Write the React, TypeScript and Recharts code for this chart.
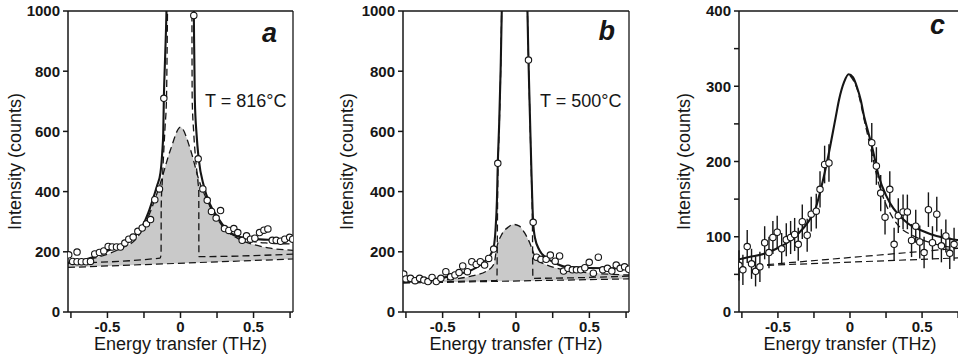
import {
  ComposedChart,
  Line,
  Area,
  Scatter,
  XAxis,
  YAxis,
  ErrorBar,
  ReferenceLine,
  Label,
} from "recharts";

type Pt = [number, number];

const FONT = '"Liberation Sans", Arial, Helvetica, sans-serif';
const INK = "#161616";
const GRAY = "#c9c9c9";

const xTicks = [-0.75, -0.5, -0.25, 0, 0.25, 0.5, 0.75];
const xLabeled = [-0.5, 0, 0.5];

// panel a, T = 816°C
const aPoints: Pt[] = [
  [-0.765, 190], [-0.738, 168], [-0.708, 199], [-0.708, 167], [-0.678, 167], [-0.646, 167],
  [-0.616, 168], [-0.587, 193], [-0.555, 198], [-0.525, 203], [-0.495, 218], [-0.468, 216],
  [-0.438, 216], [-0.411, 216], [-0.381, 229], [-0.354, 242], [-0.324, 249], [-0.292, 268],
  [-0.262, 279], [-0.233, 293], [-0.205, 307], [-0.176, 373], [-0.144, 409], [-0.114, 710],
  [0.091, 985], [0.121, 509], [0.153, 409], [0.183, 371], [0.212, 334], [0.244, 312],
  [0.274, 337], [0.301, 277], [0.331, 271], [0.365, 277], [0.392, 264], [0.422, 238],
  [0.452, 253], [0.479, 242], [0.509, 245], [0.541, 264], [0.571, 272], [0.598, 276],
  [0.628, 238], [0.655, 238], [0.685, 235], [0.714, 242], [0.747, 248], [0.768, 242],
];
const aSolid: Pt[] = [
  [-0.77, 162], [-0.7, 169], [-0.6, 182], [-0.5, 203], [-0.4, 225], [-0.3, 258], [-0.262, 284],
  [-0.22, 330], [-0.183, 384], [-0.16, 420], [-0.137, 463], [-0.125, 530], [-0.118, 596],
  [-0.114, 707], [-0.105, 850], [-0.096, 1000], [-0.088, 1250], [0.085, 1250], [0.091, 1000],
  [0.098, 707], [0.11, 590], [0.125, 507], [0.16, 418], [0.2, 360], [0.25, 318], [0.3, 283],
  [0.342, 262], [0.4, 250], [0.5, 243], [0.6, 240], [0.7, 239], [0.77, 240],
];
const aElastic: Pt[] = [
  [-0.77, 162], [-0.14, 179], [-0.133, 190], [-0.132, 351], [-0.124, 440], [-0.114, 540],
  [-0.105, 620], [-0.096, 707], [-0.092, 850], [-0.089, 1000], [-0.085, 1250], [0.075, 1250],
  [0.078, 1000], [0.08, 707], [0.09, 600], [0.105, 500], [0.12, 430], [0.125, 400],
  [0.126, 184], [0.77, 192],
];
const aBroad: Pt[] = [
  [-0.77, 165], [-0.6, 178], [-0.5, 192], [-0.4, 213], [-0.3, 245], [-0.262, 273], [-0.205, 335],
  [-0.137, 429], [-0.068, 540], [0, 614], [0.068, 540], [0.125, 440], [0.183, 370], [0.25, 310],
  [0.297, 280], [0.4, 242], [0.5, 224], [0.6, 213], [0.77, 205],
];
const aExtra: Pt[] = [
  [0.2, 352], [0.25, 312], [0.3, 280], [0.4, 250], [0.45, 240], [0.5, 234], [0.6, 229], [0.77, 226],
];
const aBase: Pt[] = [[-0.77, 148], [0.77, 176]];

// panel b, T = 500°C
const bPoints: Pt[] = [
  [-0.765, 126], [-0.75, 110], [-0.719, 112], [-0.688, 104], [-0.657, 112], [-0.628, 106],
  [-0.6, 101], [-0.572, 115], [-0.543, 101], [-0.512, 112], [-0.478, 134], [-0.446, 117],
  [-0.416, 123], [-0.388, 131], [-0.363, 153], [-0.331, 134], [-0.301, 167], [-0.271, 158],
  [-0.243, 167], [-0.214, 156], [-0.186, 178], [-0.152, 209], [-0.124, 494], [0.085, 837],
  [0.117, 298], [0.14, 182], [0.17, 175], [0.205, 175], [0.234, 189], [0.267, 169],
  [0.297, 186], [0.324, 136], [0.354, 145], [0.384, 140], [0.412, 140], [0.441, 140],
  [0.469, 147], [0.499, 165], [0.527, 129], [0.561, 182], [0.591, 140], [0.623, 145],
  [0.653, 136], [0.683, 156], [0.71, 145], [0.74, 150], [0.768, 142],
];
const bSolid: Pt[] = [
  [-0.77, 101], [-0.6, 106], [-0.485, 115], [-0.4, 125], [-0.3, 140], [-0.255, 152], [-0.2, 175],
  [-0.165, 198], [-0.152, 215], [-0.14, 270], [-0.13, 370], [-0.124, 494], [-0.115, 620],
  [-0.105, 800], [-0.097, 1000], [-0.09, 1300], [0.07, 1300], [0.078, 1000], [0.085, 837],
  [0.095, 650], [0.105, 470], [0.117, 298], [0.13, 245], [0.159, 206], [0.2, 182], [0.25, 167],
  [0.34, 150], [0.5, 146], [0.77, 145],
];
const bElastic: Pt[] = [
  [-0.77, 100], [-0.13, 105], [-0.128, 200], [-0.124, 440], [-0.115, 600], [-0.105, 790],
  [-0.098, 1000], [-0.09, 1300], [0.07, 1300], [0.078, 1000], [0.086, 830], [0.095, 640],
  [0.105, 450], [0.112, 290], [0.115, 112], [0.77, 119],
];
const bBroad: Pt[] = [
  [-0.77, 100], [-0.5, 106], [-0.3, 120], [-0.2, 136], [-0.15, 160], [-0.13, 217], [-0.1, 255],
  [-0.05, 283], [-0.02, 291], [0.02, 286], [0.06, 262], [0.1, 222], [0.12, 195], [0.14, 174],
  [0.2, 158], [0.33, 140], [0.5, 130], [0.77, 123],
];
const bBase: Pt[] = [[-0.77, 96], [0.77, 110]];

// panel c
const cPoints: Pt[] = [
  [-0.77, 62], [-0.743, 56], [-0.713, 87], [-0.683, 64], [-0.655, 54], [-0.625, 60], [-0.592, 92],
  [-0.562, 79], [-0.535, 99], [-0.505, 106], [-0.474, 84], [-0.442, 96], [-0.412, 99],
  [-0.384, 103], [-0.359, 90], [-0.331, 120], [-0.297, 102], [-0.269, 130], [-0.234, 134],
  [-0.208, 163], [-0.176, 196], [-0.146, 198], [0.151, 225], [0.183, 194], [0.213, 158],
  [0.243, 126], [0.276, 163], [0.306, 90], [0.335, 128], [0.368, 133], [0.398, 133],
  [0.427, 95], [0.456, 114], [0.484, 93], [0.514, 79], [0.544, 136], [0.572, 92], [0.602, 130],
  [0.634, 88], [0.665, 101], [0.692, 78], [0.722, 90],
];
const cErr = [
  20, 20, 22, 20, 20, 20, 22, 21, 22, 22, 21, 22, 22, 22, 22, 23, 22, 23, 23, 24, 25, 25,
  26, 25, 24, 23, 24, 22, 23, 23, 23, 22, 22, 22, 21, 23, 22, 23, 22, 22, 21, 22,
];
const cSolid: Pt[] = [
  [-0.77, 70], [-0.7, 73], [-0.585, 78], [-0.5, 85], [-0.4, 97], [-0.354, 105], [-0.3, 117],
  [-0.238, 138], [-0.2, 165], [-0.15, 208], [-0.1, 258], [-0.076, 282], [-0.04, 306],
  [-0.01, 316], [0.02, 312], [0.05, 298], [0.074, 282], [0.1, 258], [0.125, 240], [0.155, 218],
  [0.2, 180], [0.25, 155], [0.3, 138], [0.34, 129], [0.4, 118], [0.5, 108], [0.6, 101],
  [0.734, 96], [0.77, 95],
];
const cBroad: Pt[] = [
  [0, 314], [0.05, 296], [0.1, 254], [0.15, 212], [0.2, 170], [0.25, 143], [0.3, 124],
  [0.35, 112], [0.43, 102], [0.5, 96], [0.6, 90], [0.77, 84],
];
const cBase1: Pt[] = [[-0.575, 62], [0.77, 72]];
const cBase2: Pt[] = [[-0.575, 63], [0.77, 85]];

const rows = (pts: Pt[]) => pts.map(([x, y]) => ({ x, y }));

const tickStyle = { fontSize: 15, fontWeight: 700, fill: INK, fontFamily: FONT };

function xTitle(props: any) {
  const { x, y, width } = props.viewBox;
  return (
    <text x={x + width / 2} y={y + 38} textAnchor="middle" fontSize={18} fontFamily={FONT} fill={INK}>
      Energy transfer (THz)
    </text>
  );
}

function yTitle(offset: number) {
  return (props: any) => {
    const { x, y, width, height } = props.viewBox;
    const cx = x + width - offset;
    const cy = y + height / 2;
    return (
      <text
        x={cx}
        y={cy}
        transform={`rotate(-90, ${cx}, ${cy})`}
        textAnchor="middle"
        fontSize={18}
        fontFamily={FONT}
        fill={INK}
      >
        Intensity (counts)
      </text>
    );
  };
}

const dot = (p: any) => (
  <circle cx={p.cx} cy={p.cy} r={3.2} fill="#fff" stroke={INK} strokeWidth={1.1} />
);

type PanelProps = {
  left: number;
  width: number;
  yMax: number;
  yTicks: number[];
  yLabeled: number[];
  titleOffset: number;
  solid: Pt[];
  dashed: Pt[][];
  straight: Pt[][];
  points: Pt[];
  err?: number[];
  gray?: Pt[];
  mask?: Pt[];
};

function Panel(p: PanelProps) {
  const pts = p.points.map(([x, y], i) => ({ x, y, e: p.err ? p.err[i] : 0 }));
  return (
    <div style={{ position: "absolute", left: p.left, top: 0 }}>
      <ComposedChart width={p.width} height={364} margin={{ top: 11, right: 7, left: 0, bottom: 0 }}>
        <XAxis
          type="number"
          dataKey="x"
          domain={[-0.77, 0.77]}
          allowDataOverflow
          ticks={xTicks}
          interval={0}
          tickFormatter={(v: number) => (xLabeled.includes(v) ? String(v) : "")}
          height={52}
          stroke={INK}
          strokeWidth={1.5}
          tickSize={6}
          tickMargin={3}
          tick={tickStyle}
        >
          <Label content={xTitle} />
        </XAxis>
        <YAxis
          type="number"
          dataKey="y"
          domain={[0, p.yMax]}
          allowDataOverflow
          ticks={p.yTicks}
          interval={0}
          tickFormatter={(v: number) => (p.yLabeled.includes(v) ? String(v) : "")}
          width={68}
          stroke={INK}
          strokeWidth={1.5}
          tickSize={5}
          tickMargin={3}
          tick={tickStyle}
        >
          <Label content={yTitle(p.titleOffset)} />
        </YAxis>
        <ReferenceLine y={p.yMax} stroke={INK} strokeWidth={1.3} />
        <ReferenceLine x={0.77} stroke={INK} strokeWidth={1.3} />
        {p.gray && (
          <Area
            data={rows(p.gray)}
            dataKey="y"
            type="monotone"
            stroke="none"
            fill={GRAY}
            fillOpacity={1}
            dot={false}
            activeDot={false}
            isAnimationActive={false}
          />
        )}
        {p.mask && (
          <Area
            data={rows(p.mask)}
            dataKey="y"
            type="linear"
            stroke="none"
            fill="#fff"
            fillOpacity={1}
            dot={false}
            activeDot={false}
            isAnimationActive={false}
          />
        )}
        {p.straight.map((s, i) => (
          <Line
            key={`s${i}`}
            data={rows(s)}
            dataKey="y"
            type="linear"
            stroke={INK}
            strokeWidth={1.2}
            strokeDasharray="7 4"
            dot={false}
            activeDot={false}
            isAnimationActive={false}
          />
        ))}
        {p.dashed.map((s, i) => (
          <Line
            key={`d${i}`}
            data={rows(s)}
            dataKey="y"
            type="monotone"
            stroke={INK}
            strokeWidth={1.3}
            strokeDasharray="7 4"
            dot={false}
            activeDot={false}
            isAnimationActive={false}
          />
        ))}
        <Line
          data={rows(p.solid)}
          dataKey="y"
          type="monotone"
          stroke={INK}
          strokeWidth={2.1}
          dot={false}
          activeDot={false}
          isAnimationActive={false}
        />
        {p.err && (
          <Scatter data={pts} dataKey="y" shape={() => <g />} isAnimationActive={false}>
            <ErrorBar dataKey="e" direction="y" width={0} stroke={INK} strokeWidth={1.4} isAnimationActive={false} />
          </Scatter>
        )}
        <Scatter data={pts} dataKey="y" shape={dot} isAnimationActive={false} />
      </ComposedChart>
    </div>
  );
}

export default function App() {
  const textStyle = { fontFamily: FONT, fill: INK };
  return (
    <div
      style={{
        position: "absolute",
        left: 0,
        top: 0,
        width: 958,
        height: 364,
        overflow: "hidden",
        background: "#fff",
      }}
    >
      <Panel
        left={0}
        width={300}
        yMax={1000}
        yTicks={[0, 200, 400, 600, 800, 1000]}
        yLabeled={[0, 200, 400, 600, 800, 1000]}
        titleOffset={47}
        solid={aSolid}
        dashed={[aBroad, aElastic, aExtra]}
        straight={[aBase]}
        points={aPoints}
        gray={aBroad}
        mask={aBase}
      />
      <Panel
        left={335}
        width={301}
        yMax={1000}
        yTicks={[0, 200, 400, 600, 800, 1000]}
        yLabeled={[0, 200, 400, 600, 800, 1000]}
        titleOffset={50}
        solid={bSolid}
        dashed={[bBroad, bElastic]}
        straight={[bBase]}
        points={bPoints}
        gray={bBroad}
        mask={bBase}
      />
      <Panel
        left={671}
        width={297}
        yMax={400}
        yTicks={[0, 50, 100, 150, 200, 250, 300, 350, 400]}
        yLabeled={[0, 100, 200, 300, 400]}
        titleOffset={49}
        solid={cSolid}
        dashed={[cBroad]}
        straight={[cBase1, cBase2]}
        points={cPoints}
        err={cErr}
      />
      <svg
        width={958}
        height={364}
        style={{ position: "absolute", left: 0, top: 0, pointerEvents: "none" }}
      >
        <text x={277} y={42} textAnchor="end" fontSize={27} fontWeight={700} fontStyle="italic" {...textStyle}>
          a
        </text>
        <text x={205} y={107} fontSize={18} {...textStyle}>
          T = 816°C
        </text>
        <text x={615} y={40} textAnchor="end" fontSize={27} fontWeight={700} fontStyle="italic" {...textStyle}>
          b
        </text>
        <text x={540} y={107} fontSize={18} {...textStyle}>
          T = 500°C
        </text>
        <text x={945} y={34} textAnchor="end" fontSize={27} fontWeight={700} fontStyle="italic" {...textStyle}>
          c
        </text>
      </svg>
    </div>
  );
}
